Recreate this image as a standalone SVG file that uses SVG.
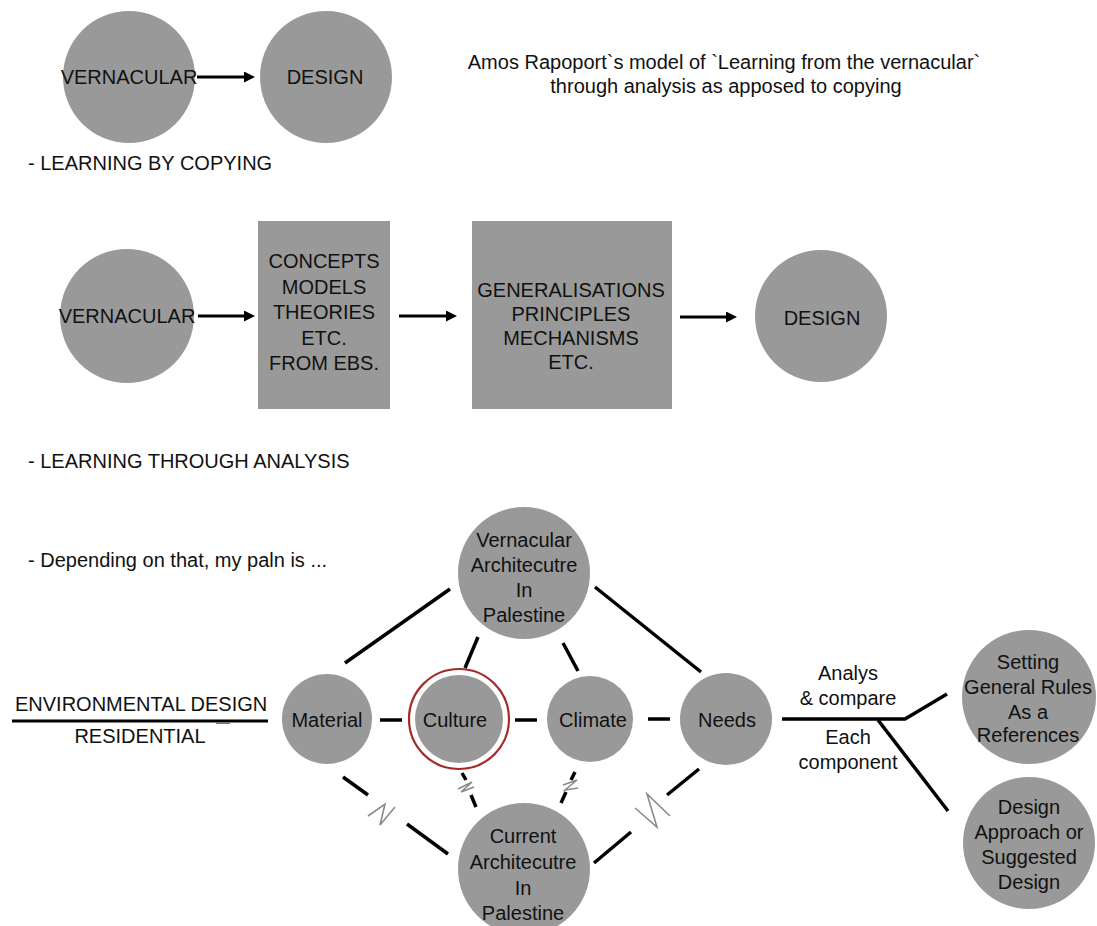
<svg xmlns="http://www.w3.org/2000/svg" width="1097" height="926" viewBox="0 0 1097 926">
<style>
.n{fill:#999999}
text{font-family:"Liberation Sans",Arial,sans-serif;font-size:20px;fill:#111}
.c{text-anchor:middle}
.ln{stroke:#000;stroke-width:3.5;fill:none;stroke-linecap:butt}
.ar{stroke:#000;stroke-width:3;fill:none}
.zz{stroke:#8a8a8a;stroke-width:1.6;fill:none}
</style>
<defs>
<marker id="ah" markerWidth="11" markerHeight="11" refX="2" refY="5.5" orient="auto" markerUnits="userSpaceOnUse" viewBox="0 0 11 11">
<path d="M0,0 L11,5.5 L0,11 Z" fill="#000"/>
</marker>
</defs>
<rect width="1097" height="926" fill="#fff"/>

<g id="title">
<text class="c" x="724" y="69" font-size="20.5">Amos Rapoport`s model of `Learning from the vernacular`</text>
<text class="c" x="726" y="93" font-size="20.5">through analysis as apposed to copying</text>
</g>

<g id="top-vernacular"><circle class="n" cx="129" cy="77" r="66"/><text class="c" x="129" y="84" font-size="19.5">VERNACULAR</text></g>
<g id="top-design"><circle class="n" cx="326" cy="77" r="66"/><text class="c" x="325" y="84" font-size="19.5">DESIGN</text></g>
<g id="label-copying"><text x="28" y="170">- LEARNING BY COPYING</text></g>

<g id="mid-vernacular"><circle class="n" cx="127" cy="316" r="67"/><text class="c" x="127" y="323" font-size="19.5">VERNACULAR</text></g>
<g id="mid-concepts"><rect class="n" x="258" y="221" width="132" height="188"/>
<text class="c" x="324" y="268">CONCEPTS</text>
<text class="c" x="324" y="294">MODELS</text>
<text class="c" x="324" y="319">THEORIES</text>
<text class="c" x="324" y="345">ETC.</text>
<text class="c" x="324" y="370">FROM EBS.</text>
</g>
<g id="mid-generalisations"><rect class="n" x="472" y="221" width="200" height="188"/>
<text class="c" x="571" y="297" font-size="19.5">GENERALISATIONS</text>
<text class="c" x="571" y="321" font-size="19.5">PRINCIPLES</text>
<text class="c" x="571" y="345" font-size="19.5">MECHANISMS</text>
<text class="c" x="571" y="369" font-size="19.5">ETC.</text>
</g>
<g id="mid-design"><circle class="n" cx="821" cy="316" r="66"/><text class="c" x="822" y="325" font-size="19.5">DESIGN</text></g>

<g id="label-analysis"><text x="28" y="468">- LEARNING THROUGH ANALYSIS</text></g>
<g id="label-plan"><text x="28" y="567">- Depending on that, my paln is ...</text></g>

<g id="left-labels">
<text x="15" y="711">ENVIRONMENTAL DESIGN</text>
<text class="c" x="140" y="743">RESIDENTIAL</text>
</g>

<g id="vernacular-arch"><circle class="n" cx="524" cy="573" r="66"/>
<text class="c" x="524" y="547">Vernacular</text>
<text class="c" x="524" y="572">Architecutre</text>
<text class="c" x="524" y="597">In</text>
<text class="c" x="524" y="622">Palestine</text>
</g>
<g id="material"><circle class="n" cx="327" cy="719" r="45"/><text class="c" x="327" y="727">Material</text></g>
<g id="culture"><circle class="n" cx="459" cy="719" r="44"/><circle cx="459" cy="719" r="50" fill="none" stroke="#a52a2a" stroke-width="2.2"/><text class="c" x="455" y="727">Culture</text></g>
<g id="climate"><circle class="n" cx="590" cy="719" r="43"/><text class="c" x="593" y="727">Climate</text></g>
<g id="needs"><circle class="n" cx="726" cy="719" r="46"/><text class="c" x="727" y="727">Needs</text></g>
<g id="current-arch"><circle class="n" cx="524" cy="869" r="66"/>
<text class="c" x="523" y="843">Current</text>
<text class="c" x="523" y="869">Architecutre</text>
<text class="c" x="523" y="895">In</text>
<text class="c" x="523" y="920">Palestine</text>
</g>
<g id="setting"><circle class="n" cx="1029" cy="697" r="67"/>
<text class="c" x="1028" y="669">Setting</text>
<text class="c" x="1028" y="694">General Rules</text>
<text class="c" x="1028" y="719">As a</text>
<text class="c" x="1028" y="742">References</text>
</g>
<g id="design-approach"><circle class="n" cx="1029" cy="843" r="66"/>
<text class="c" x="1029" y="814">Design</text>
<text class="c" x="1029" y="839">Approach or</text>
<text class="c" x="1029" y="864">Suggested</text>
<text class="c" x="1029" y="889">Design</text>
</g>
<g id="edge-labels">
<text class="c" x="848" y="680">Analys</text>
<text class="c" x="848" y="705">&amp; compare</text>
<text class="c" x="848" y="744">Each</text>
<text class="c" x="848" y="769">component</text>
</g>

<g id="connectors">
<line class="ar" x1="197" y1="77" x2="246" y2="77" marker-end="url(#ah)"/>
<line class="ar" x1="198" y1="316" x2="246" y2="316" marker-end="url(#ah)"/>
<line class="ar" x1="399" y1="316" x2="448" y2="316" marker-end="url(#ah)"/>
<line class="ar" x1="680" y1="317" x2="728" y2="317" marker-end="url(#ah)"/>

<line x1="12" y1="721" x2="268" y2="721" stroke="#000" stroke-width="3"/>
<line x1="216" y1="723" x2="230" y2="723" stroke="#777" stroke-width="2"/>

<line class="ln" x1="450" y1="589" x2="345" y2="663"/>
<line class="ln" x1="478" y1="637" x2="465" y2="668"/>
<line class="ln" x1="563" y1="643" x2="578" y2="671"/>
<line class="ln" x1="595" y1="587" x2="701" y2="672"/>

<line class="ln" x1="380" y1="720" x2="402" y2="720"/>
<line class="ln" x1="515" y1="720" x2="537" y2="720"/>
<line class="ln" x1="648" y1="719" x2="670" y2="719"/>

<line class="ln" x1="343" y1="777" x2="368" y2="795"/>
<line class="ln" x1="407" y1="824" x2="448" y2="854"/>
<polyline class="zz" points="368,816 385,804 380,825 395,807"/>

<line class="ln" x1="462" y1="773" x2="466" y2="780"/>
<line class="ln" x1="471" y1="795" x2="476" y2="807"/>
<polyline class="zz" points="458,789 472,782 461,792 474,787"/>

<line class="ln" x1="575" y1="772" x2="571" y2="780"/>
<line class="ln" x1="566" y1="792" x2="561" y2="803"/>
<polyline class="zz" points="563,785 577,780 565,790 578,788"/>

<line class="ln" x1="699" y1="769" x2="667" y2="795"/>
<line class="ln" x1="631" y1="832" x2="594" y2="863"/>
<polyline class="zz" points="635,808 657,827 647,794 670,816"/>

<polyline class="ln" points="782,719 905,719 947,694"/>
<line class="ln" x1="878" y1="720" x2="948" y2="811"/>
</g>
</svg>
